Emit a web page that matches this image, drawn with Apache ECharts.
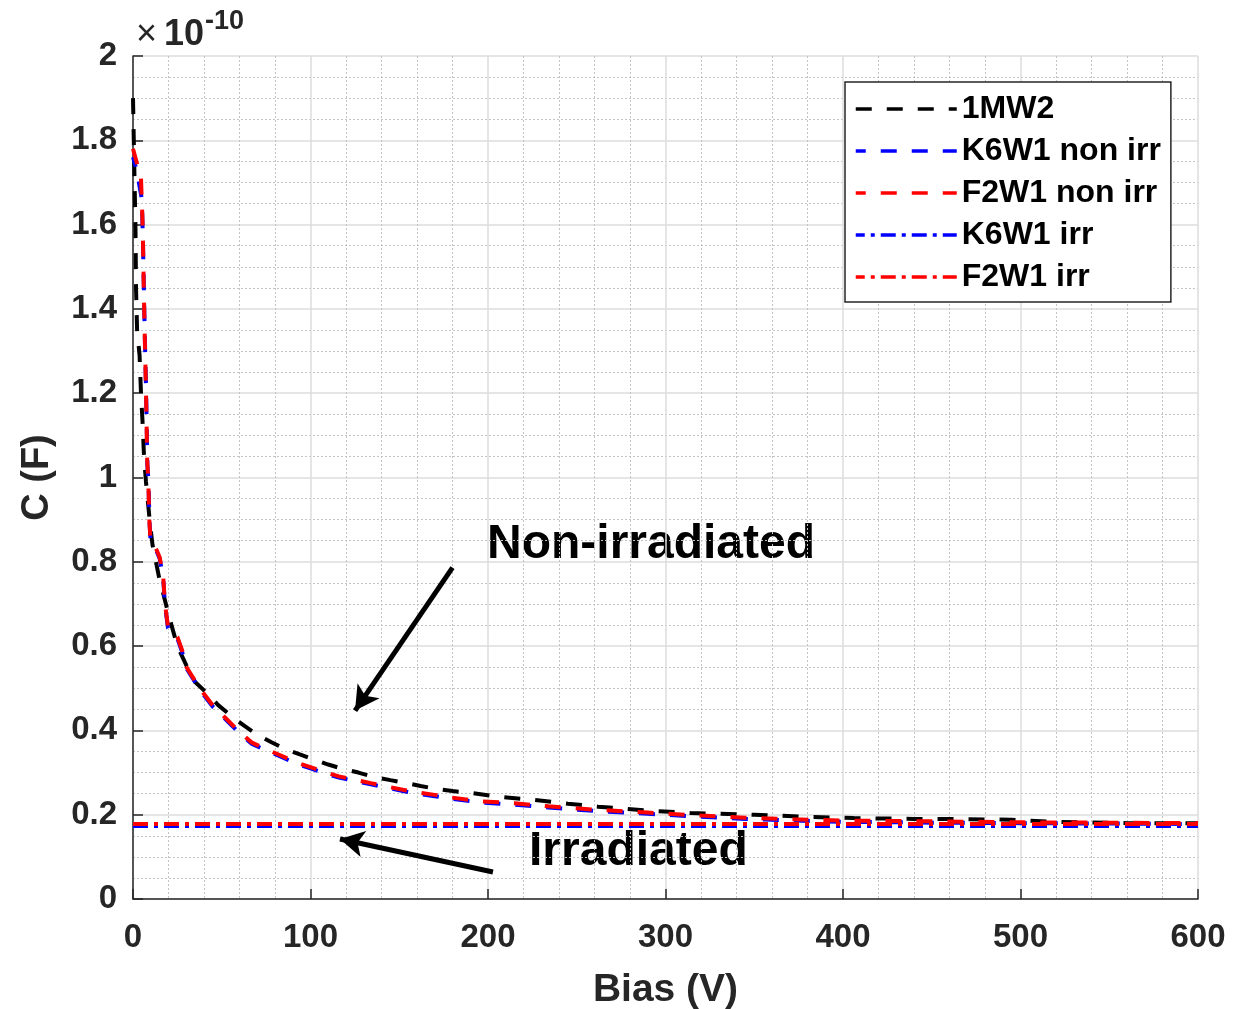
<!DOCTYPE html>
<html>
<head>
<meta charset="utf-8">
<script src="https://cdn.jsdelivr.net/npm/echarts@6/dist/echarts.min.js"></script>
<style>
html,body{margin:0;padding:0;background:#fff;}
#chart{width:1235px;height:1009px;}
</style>
</head>
<body>
<div id="chart"></div>
<script>
// Units: C in 1e-10 F, V in volts
const seriesNames = ['1MW2', 'K6W1 non irr', 'F2W1 non irr', 'K6W1 irr', 'F2W1 irr'];

const v1MW2 = [0,0.8,1.4,1.7,2.3,3.7,4.5,5.4,6.2,7.3,9.6,11,14.6,20,25,30,35,41.5,48,56,63,70,78,85.6,94,102.5,110,118,127,135,145,154,162,171,180,190,205,226,245,262,290,314,350,380,406,440,460,495,520,560,600];
const c1MW2 = [1.90,1.72,1.59,1.45,1.35,1.29,1.20,1.13,1.05,0.99,0.89,0.84,0.765,0.675,0.60,0.555,0.515,0.489,0.46,0.432,0.41,0.39,0.372,0.356,0.343,0.330,0.319,0.309,0.30,0.290,0.282,0.275,0.268,0.261,0.256,0.252,0.243,0.235,0.226,0.219,0.210,0.204,0.200,0.195,0.192,0.190,0.190,0.188,0.183,0.180,0.180];

const vK6W1 = [0,2,5,5.6,6.3,6.9,7.3,7.7,8.1,8.7,9.3,9.9,11.5,15,17,18,19.7,25,27.6,30,37.7,45,52,60.3,67,75.3,83,92,100,109,116,124,134,143,152,160,170,179,195.5,215,234,260,290,320,345,372,400,456,500,550,600];
const cK6W1 = [1.76,1.73,1.66,1.56,1.41,1.29,1.22,1.13,1.03,0.99,0.895,0.85,0.843,0.808,0.762,0.698,0.643,0.618,0.587,0.548,0.496,0.456,0.427,0.392,0.368,0.352,0.338,0.321,0.310,0.297,0.288,0.281,0.272,0.264,0.256,0.250,0.244,0.238,0.229,0.224,0.217,0.209,0.202,0.195,0.190,0.186,0.183,0.181,0.180,0.179,0.178];

const vF2W1 = [0,4.5,5.5,6.2,6.8,7.2,7.6,8,8.6,9.2,9.8,11.5,15,17,18,19.7,25,27.6,30,37.7,45,52,60.3,67,75.3,83,92,100,109,116,124,134,143,152,160,170,179,195.5,215,234,260,290,320,345,372,400,456,500,550,600];
const cF2W1 = [1.78,1.71,1.59,1.42,1.30,1.23,1.14,1.04,0.995,0.90,0.853,0.846,0.811,0.766,0.701,0.647,0.622,0.591,0.551,0.499,0.459,0.430,0.395,0.371,0.355,0.341,0.324,0.313,0.300,0.291,0.284,0.275,0.267,0.259,0.253,0.247,0.241,0.232,0.227,0.220,0.212,0.205,0.198,0.193,0.189,0.186,0.184,0.182,0.181,0.180];

const vIrr = [0,50,100,150,200,250,300,350,400,450,500,550,600];
const cK6W1irr = [0.173,0.173,0.173,0.173,0.173,0.173,0.173,0.173,0.173,0.173,0.173,0.173,0.173];
const cF2W1irr = [0.178,0.178,0.178,0.178,0.178,0.178,0.178,0.178,0.178,0.178,0.178,0.178,0.178];

const xTicks = [0,100,200,300,400,500,600];
const yTicks = [0,0.2,0.4,0.6,0.8,1,1.2,1.4,1.6,1.8,2];

// annotation arrows in data coordinates [tail, tip]
const arrowNonIrr = [[180, 0.786], [125.1, 0.447]];
const arrowIrr = [[202.8, 0.064], [116.6, 0.1425]];

function zip(a, b) { return a.map((x, i) => [x, b[i]]); }

const FONT = '"Liberation Sans", Arial, Helvetica, sans-serif';
const AX = '#262626';

const chart = echarts.init(document.getElementById('chart'));

const dashed = [16, 15];
const dashDot = [15, 6, 4, 6];
const LW = 4;

chart.setOption({
  animation: false,
  backgroundColor: '#fff',
  grid: { left: 133, right: 37, top: 56, bottom: 110, containLabel: false, outerBoundsMode: 'none' },
  xAxis: {
    type: 'value', min: 0, max: 600, interval: 100,
    name: 'Bias (V)', nameLocation: 'middle', nameGap: 72,
    nameTextStyle: { fontFamily: FONT, fontWeight: 'bold', fontSize: 39, color: AX },
    axisLine: { show: true, lineStyle: { color: AX, width: 1.5 } },
    axisTick: { show: true, inside: true, length: 10, lineStyle: { color: AX, width: 1.5 } },
    axisLabel: { fontFamily: FONT, fontWeight: 'bold', fontSize: 33, color: AX, margin: 22 },
    splitLine: { show: true, lineStyle: { color: '#dcdcdc', width: 1.5 } },
    minorTick: { show: false, splitNumber: 5 },
    minorSplitLine: { show: true, lineStyle: { color: '#c4c4c4', width: 1, type: [2, 2] } }
  },
  yAxis: {
    type: 'value', min: 0, max: 2, interval: 0.2,
    name: 'C (F)', nameLocation: 'middle', nameGap: 76, nameRotate: 90,
    nameTextStyle: { fontFamily: FONT, fontWeight: 'bold', fontSize: 38, color: AX },
    axisLine: { show: true, lineStyle: { color: AX, width: 1.5 } },
    axisTick: { show: true, inside: true, length: 10, lineStyle: { color: AX, width: 1.5 } },
    axisLabel: { fontFamily: FONT, fontWeight: 'bold', fontSize: 33, color: AX, margin: 16,
      formatter: v => String(Math.round(v * 10) / 10) },
    splitLine: { show: true, lineStyle: { color: '#dcdcdc', width: 1.5 } },
    minorTick: { show: false, splitNumber: 4 },
    minorSplitLine: { show: true, lineStyle: { color: '#c4c4c4', width: 1, type: [2, 2] } }
  },
  legend: {
    orient: 'vertical', left: 845, top: 82,
    itemWidth: 101, itemHeight: 14, itemGap: 10,
    padding: [11, 10, 9, 9],
    backgroundColor: '#fff', borderColor: AX, borderWidth: 1.5,
    itemStyle: { opacity: 0 },
    lineStyle: { width: 3.5 },
    textStyle: { fontFamily: FONT, fontWeight: 'bold', fontSize: 32, color: '#000', lineHeight: 32 },
    data: seriesNames
  },
  series: [
    { name: seriesNames[0], type: 'line', data: zip(v1MW2, c1MW2), symbol: 'none',
      lineStyle: { color: '#000', width: LW, type: dashed }, itemStyle: { color: '#000' },
      markLine: {
        silent: true, symbol: ['none', 'arrow'], symbolSize: [20, 24],
        label: { show: false },
        lineStyle: { color: '#000', width: 5, type: 'solid' },
        data: [
          [{ coord: arrowNonIrr[0] }, { coord: arrowNonIrr[1] }],
          [{ coord: arrowIrr[0] }, { coord: arrowIrr[1] }]
        ]
      }
    },
    { name: seriesNames[1], type: 'line', data: zip(vK6W1, cK6W1), symbol: 'none',
      lineStyle: { color: '#0000ff', width: LW, type: dashed, dashOffset: 6 }, itemStyle: { color: '#0000ff' } },
    { name: seriesNames[2], type: 'line', data: zip(vF2W1, cF2W1), symbol: 'none',
      lineStyle: { color: '#ff0000', width: LW, type: dashed }, itemStyle: { color: '#ff0000' } },
    { name: seriesNames[3], type: 'line', data: zip(vIrr, cK6W1irr), symbol: 'none',
      lineStyle: { color: '#0000ff', width: LW, type: dashDot }, itemStyle: { color: '#0000ff' } },
    { name: seriesNames[4], type: 'line', data: zip(vIrr, cF2W1irr), symbol: 'none',
      lineStyle: { color: '#ff0000', width: LW, type: dashDot }, itemStyle: { color: '#ff0000' } }
  ],
  graphic: [
    { type: 'text', left: 136, top: 17, style: { text: '×', font: 'normal 36px ' + FONT, fill: AX } },
    { type: 'text', left: 164, top: 17, style: { text: '10', font: 'bold 36px ' + FONT, fill: AX } },
    { type: 'text', left: 205, top: 8, style: { text: '-10', font: 'bold 27px ' + FONT, fill: AX } },
    { type: 'text', left: 487, top: 521, style: { text: 'Non-irradiated', font: 'bold 48px ' + FONT, fill: '#000' } },
    { type: 'text', left: 529, top: 828, style: { text: 'Irradiated', font: 'bold 48px ' + FONT, fill: '#000' } }
  ]
});
</script>
</body>
</html>
